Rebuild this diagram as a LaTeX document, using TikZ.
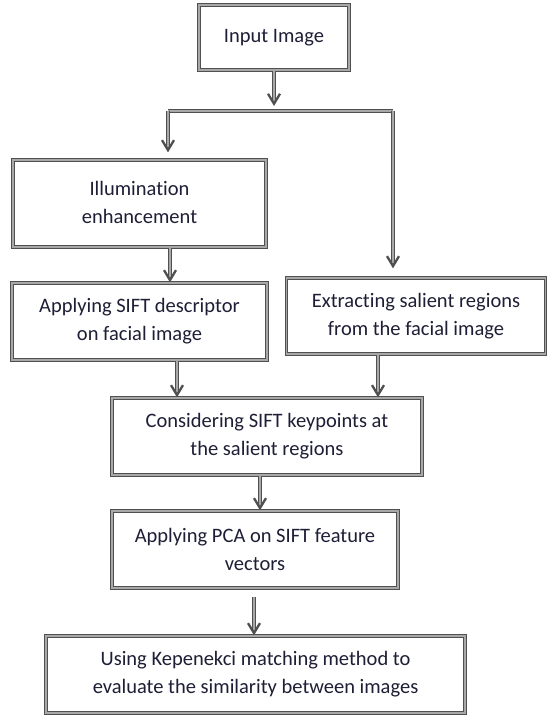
\documentclass[tikz,border=0pt]{standalone}
\usepackage{fontspec}
\setmainfont{Carlito}[Ligatures=NoCommon]
\usetikzlibrary{arrows.meta,calc}
\definecolor{boxdark}{HTML}{505050}
\definecolor{boxlight}{HTML}{A8A8A8}
\definecolor{txt}{HTML}{1E1E36}
\begin{document}
\begin{tikzpicture}[x=1pt,y=-1pt,
  fbox/.style={draw=boxdark, double=boxlight, double distance=1.2pt, line width=1.3pt,
    fill=white, align=center, text=txt, inner sep=0pt,
    font=\fontsize{20.5}{28}\selectfont},
  arr/.style={draw=boxdark, double=boxlight, double distance=1.4pt, line width=0.9pt,
    -{Straight Barb[length=10pt,width=12pt,line width=2.3pt]}},
  bar/.style={draw=boxdark, double=boxlight, double distance=1.4pt, line width=0.9pt}]
\useasboundingbox (0,0) rectangle (549,715);
\node[fbox, minimum width=150, minimum height=65] (inp) at (274,37.5) {\raisebox{4pt}{Input Image}};
\node[fbox, minimum width=253, minimum height=87] (ill) at (139.5,203.5) {\raisebox{4pt}{\begin{tabular}{@{}c@{}}Illumination\\enhancement\end{tabular}}};
\node[fbox, minimum width=255, minimum height=77] (sift) at (139.5,321.5) {Applying SIFT descriptor\\on facial image};
\node[fbox, minimum width=259, minimum height=76] (ext) at (416,316) {Extracting salient regions\\from the facial image};
\node[fbox, minimum width=310, minimum height=77] (cons) at (267,436.5) {Considering SIFT keypoints at\\the salient regions};
\node[fbox, minimum width=286, minimum height=77] (pca) at (255,549.5) {Applying PCA on SIFT feature\\vectors};
\node[fbox, minimum width=419, minimum height=77] (fin) at (255.5,674.5) {Using Kepenekci matching method to\\evaluate the similarity between images};
\coordinate (jM) at (274,111);
\coordinate (jL) at (168,111);
\coordinate (jR) at (393,111);
\coordinate (a1) at (170,0);
\coordinate (a2) at (177,0);
\coordinate (a3) at (378,0);
\coordinate (a4) at (260,0);
\coordinate (a5) at (254,0);
\draw[arr, shorten >=5pt] (inp.south) -- (jM);
\draw[bar] (jL) -- (jR);
\draw[arr, shorten >=7pt] (jL) -- (jL |- ill.north);
\draw[arr, shorten >=9pt] (jR) -- (jR |- ext.north);
\draw[arr] (ill.south -| a1) -- (sift.north -| a1);
\draw[arr] (sift.south -| a2) -- (cons.north -| a2);
\draw[arr] (ext.south -| a3) -- (cons.north -| a3);
\draw[arr] (cons.south -| a4) -- (pca.north -| a4);
\draw[arr, shorten <=8pt] (pca.south -| a5) -- (fin.north -| a5);
\end{tikzpicture}
\end{document}
